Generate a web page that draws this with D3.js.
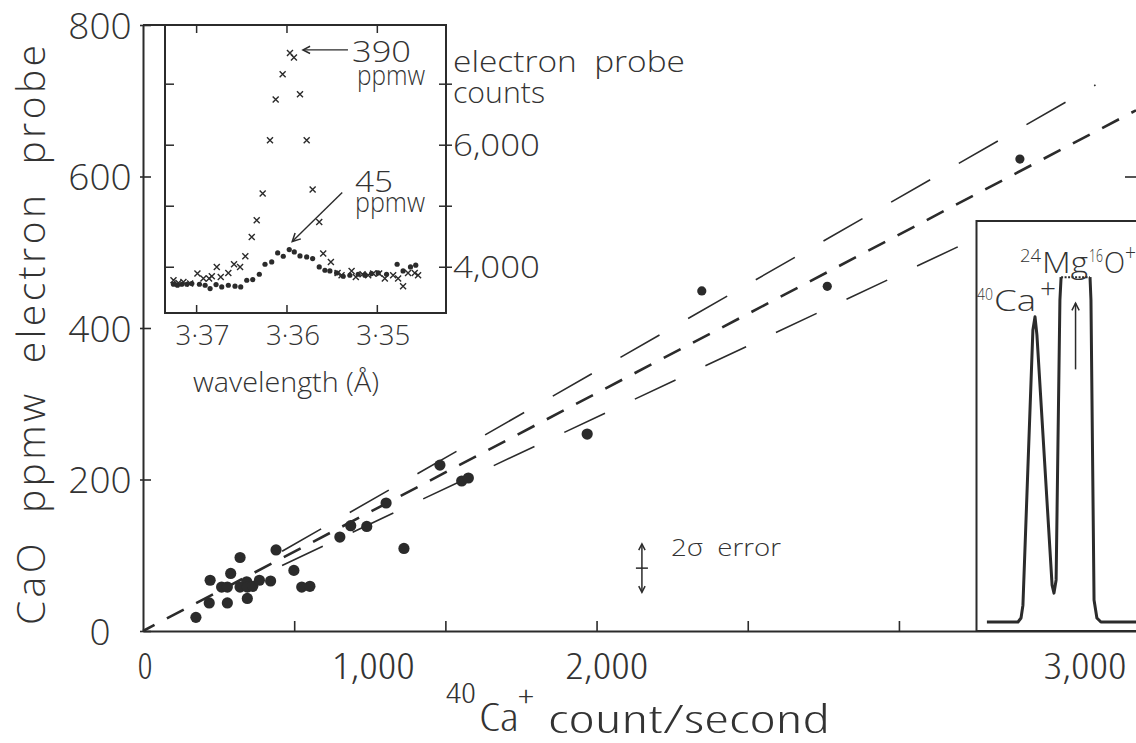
<!DOCTYPE html>
<html>
<head>
<meta charset="utf-8">
<script src="https://cdn.jsdelivr.net/npm/d3@7"></script>
<style>
  body { margin: 0; background: #fff; }
  svg { display: block; }
</style>
</head>
<body>
<svg id="chart" width="1136" height="743"></svg>
<script>
// ---- main scatter: 40Ca+ count rate vs CaO (electron probe) ----
const countRate = [175, 219, 279, 222, 260, 279, 290, 321, 321, 343, 345, 345, 363, 385, 422,
  440, 499, 525, 552, 651, 687, 740, 804, 863, 982, 1054, 1076, 1469, 1848, 2263, 2900];
const caoPpmw = [18, 37, 37, 67, 58, 58, 76, 97, 58, 65, 58, 43, 59, 67, 66,
  107, 80, 58, 59, 124, 139, 138, 169, 109, 219, 198, 202, 260, 449, 455, 623];

// regression line and its two limits (ppmw per count/s)
const fitNames = ['upper', 'best', 'lower'];
const fitSlope = [0.2288, 0.2093, 0.1882];
const fitFrom = [460, 0, 460];
const fitTo = [3150, 3284, 2718];

const yTicks = [0, 200, 400, 600, 800];
const xTicks = [500, 1000, 1500, 2000, 2500, 3000];
const xTickLabels = [0, 1000, 2000, 3000];

// 2 sigma error marker
const errCount = 1650, errPpmw = 83, err2s = 32;

// ---- inset: electron probe wavelength scans ----
const crossWl = [3.37256, 3.37201, 3.37146, 3.37072, 3.36991, 3.36925, 3.36862, 3.36832, 3.36777,
  3.36733, 3.36649, 3.36586, 3.36519, 3.36461, 3.3639, 3.36335, 3.36269, 3.36188, 3.36125, 3.36048,
  3.35967, 3.35923, 3.35856, 3.35782, 3.35716, 3.35643, 3.35599, 3.35514, 3.3544, 3.35396, 3.35285,
  3.35238, 3.35164, 3.35101, 3.35046, 3.3498, 3.34917, 3.34825, 3.3477, 3.34715, 3.3466, 3.34586, 3.34549];
const crossCount = [3787, 3743, 3759, 3732, 3896, 3814, 3814, 3852, 4005, 3841, 3907, 4049, 4005,
  4180, 4497, 4770, 5208, 6082, 6749, 7164, 7513, 7437, 6836, 6082, 5273, 4743, 4224, 4087, 3907,
  3869, 3940, 3841, 3885, 3869, 3896, 3896, 3814, 3869, 3814, 3689, 3907, 3907, 3869];
const dotWl = [3.37256, 3.37212, 3.37164, 3.37108, 3.37053, 3.36969, 3.36906, 3.36851, 3.36785,
  3.36722, 3.36649, 3.36575, 3.36512, 3.36445, 3.36379, 3.36306, 3.36243, 3.36169, 3.36103, 3.36041,
  3.35975, 3.35919, 3.35856, 3.35782, 3.35716, 3.35643, 3.3558, 3.35525, 3.35451, 3.35378, 3.35304,
  3.35212, 3.35138, 3.35064, 3.34991, 3.34898, 3.34781, 3.34715, 3.34633, 3.34575];
const dotCount = [3721, 3705, 3721, 3721, 3732, 3721, 3705, 3651, 3716, 3677, 3705, 3689, 3677,
  3787, 3798, 3885, 4049, 4087, 4234, 4180, 4290, 4251, 4185, 4169, 4142, 4005, 3951, 3940, 3907,
  3852, 3869, 3885, 3869, 3896, 3907, 3885, 4049, 3940, 4005, 4033];
const wlTicks = [3.37, 3.36, 3.35];
const probeTicks = [4000, 5000, 6000, 7000];
const probeTickLabels = [4000, 6000];

// ---- inset: ion probe mass scan (relative intensity) ----
const profMass = [39.9427, 39.9558, 39.9571, 39.9579, 39.9621, 39.9630, 39.9638, 39.9702, 39.9710,
  39.9719, 39.9735, 39.9740, 39.9862, 39.9866, 39.9879, 39.9891, 39.9908, 40.0056];
const profInt = [0, 0, 1, 4.2, 72.8, 76.1, 71.6, 9.2, 7.2, 10.5, 80.3, 86, 86, 80.3, 5.5, 1, 0, 0];

const ink = '#2b2b2b';
const txt = '#333';
const FONT = "'Open Sans', 'Liberation Sans', sans-serif";
const WEIGHT = 350;

const svg = d3.select('#chart');
svg.append('rect').attr('width', 1136).attr('height', 743).attr('fill', '#fff');

// scales
const x = d3.scaleLinear().domain([0, 3284]).range([143, 1136]);
const y = d3.scaleLinear().domain([0, 800]).range([631, 25]);

// open arrow head
function arrowHead(g, tipX, tipY, angle, size) {
  const a1 = angle + Math.PI * 0.85, a2 = angle - Math.PI * 0.85;
  g.append('path')
    .attr('d', `M${tipX + size * Math.cos(a1)},${tipY + size * Math.sin(a1)}L${tipX},${tipY}L${tipX + size * Math.cos(a2)},${tipY + size * Math.sin(a2)}`)
    .attr('fill', 'none').attr('stroke', ink).attr('stroke-width', 1.5);
}

// light text helper; optional width forces the printed width
function label(g, tx, ty, size, str, width, condensed) {
  const t = g.append('text')
    .attr('x', tx).attr('y', ty)
    .attr('font-family', FONT).attr('font-weight', WEIGHT).attr('font-size', size)
    .attr('fill', txt)
    .style('white-space', 'pre')
    .text(str);
  if (condensed) t.style('font-stretch', 'condensed');
  if (width) t.attr('textLength', width).attr('lengthAdjust', 'spacingAndGlyphs');
  return t;
}

// ---------- main axes ----------
const yAxis = svg.append('g')
  .attr('transform', `translate(${x(0)},0)`)
  .call(d3.axisLeft(y).tickValues(yTicks).tickSize(-8).tickSizeOuter(0).tickFormat(d3.format('d')));
yAxis.select('.domain').attr('stroke', ink).attr('stroke-width', 2);
yAxis.selectAll('.tick line').attr('x1', -3).attr('stroke', ink).attr('stroke-width', 1.6);
yAxis.selectAll('.tick text')
  .attr('x', -43).attr('dy', '0.36em').attr('text-anchor', 'middle')
  .attr('font-family', FONT).attr('font-weight', WEIGHT).attr('font-size', 37).attr('fill', txt);

const xAxis = svg.append('g')
  .attr('transform', `translate(0,${y(0)})`)
  .call(d3.axisBottom(x).tickValues(xTicks).tickSize(-10).tickSizeOuter(0).tickFormat(''));
xAxis.select('.domain').attr('stroke', ink).attr('stroke-width', 2);
xAxis.selectAll('.tick line').attr('stroke', ink).attr('stroke-width', 1.6);

// right-hand axis ticks (its axis line lies just outside the picture)
const rAxis = svg.append('g')
  .attr('transform', 'translate(1138,0)')
  .call(d3.axisRight(y).tickValues([200, 400, 600]).tickSize(-13).tickSizeOuter(0).tickFormat(''));
rAxis.select('.domain').remove();
rAxis.selectAll('.tick line').attr('stroke', ink).attr('stroke-width', 1.6);

// x tick labels, offset as printed in the original figure
const xLabelNudge = [2, -72, -141, 35];
svg.append('g').selectAll('text')
  .data(xTickLabels)
  .join('text')
  .attr('x', (d, i) => x(d) + xLabelNudge[i])
  .attr('y', 679)
  .attr('text-anchor', 'middle')
  .attr('font-family', FONT).attr('font-weight', WEIGHT).attr('font-size', 37)
  .style('font-stretch', 'condensed')
  .attr('fill', txt)
  .attr('textLength', d => d === 0 ? null : 83)
  .attr('lengthAdjust', 'spacingAndGlyphs')
  .text(d => d3.format(',')(d));

// axis titles
svg.append('text')
  .attr('transform', 'translate(45,335) rotate(-90)')
  .attr('text-anchor', 'middle')
  .attr('font-family', FONT).attr('font-weight', WEIGHT).attr('font-size', 39).attr('fill', txt)
  .attr('textLength', 580).attr('lengthAdjust', 'spacing')
  .style('white-space', 'pre')
  .text('CaO  ppmw  electron  probe');

const xt = svg.append('g');
label(xt, 446, 703, 28, '40', 30, true);
label(xt, 479, 731, 38, 'Ca', 40, true);
label(xt, 518, 707, 30, '+', 16, true);
label(xt, 548, 733, 38, 'count/second', 282, true);

// ---------- fit lines ----------
const fits = fitNames.map((name, i) => ({ name, slope: fitSlope[i], from: fitFrom[i], to: fitTo[i] }));
svg.append('g').selectAll('line')
  .data(fits)
  .join('line')
  .attr('x1', d => x(d.from)).attr('y1', d => y(d.slope * d.from))
  .attr('x2', d => x(d.to)).attr('y2', d => y(d.slope * d.to))
  .attr('stroke', ink)
  .attr('stroke-width', d => d.name === 'best' ? 2.6 : 1.6)
  .attr('stroke-dasharray', d => d.name === 'best' ? '19,14' : '45,33')
  .attr('stroke-dashoffset', d => d.name === 'best' ? 6 : 0);

// ---------- data points ----------
const pts = countRate.map((c, i) => ({ c, p: caoPpmw[i] }));
svg.append('g').selectAll('circle')
  .data(pts)
  .join('circle')
  .attr('cx', d => x(d.c)).attr('cy', d => y(d.p))
  .attr('r', d => d.c > 1600 ? 4.6 : 5.6)
  .attr('fill', ink);

// ---------- 2 sigma error marker ----------
const eg = svg.append('g');
const ex = x(errCount), eTop = y(errPpmw + err2s), eBot = y(errPpmw - err2s);
eg.append('line').attr('x1', ex).attr('x2', ex).attr('y1', eTop).attr('y2', eBot)
  .attr('stroke', ink).attr('stroke-width', 1.5);
eg.append('line').attr('x1', ex - 6).attr('x2', ex + 6).attr('y1', y(errPpmw)).attr('y2', y(errPpmw))
  .attr('stroke', ink).attr('stroke-width', 1.5);
arrowHead(eg, ex, eTop, -Math.PI / 2, 7);
arrowHead(eg, ex, eBot, Math.PI / 2, 7);
label(eg, ex + 29, 556, 24, '2σ  error', 110);

// ---------- inset: wavelength scans ----------
const wl = d3.scaleLinear().domain([3.3735, 3.3424]).range([165, 446]);
const pc = d3.scaleLinear().domain([3250, 7970]).range([313, 25]);
const ins = svg.append('g');
ins.append('rect').attr('x', 165).attr('y', 25).attr('width', 281).attr('height', 288)
  .attr('fill', '#fff').attr('stroke', ink).attr('stroke-width', 2);
ins.append('line').attr('x1', x(0)).attr('x2', 165).attr('y1', 25).attr('y2', 25)
  .attr('stroke', ink).attr('stroke-width', 2);

ins.selectAll('.tk-l').data(probeTicks).join('line')
  .attr('x1', 165).attr('x2', 174).attr('y1', d => pc(d)).attr('y2', d => pc(d))
  .attr('stroke', ink).attr('stroke-width', 1.5);
ins.selectAll('.tk-r').data(probeTicks).join('line')
  .attr('x1', 439).attr('x2', 452).attr('y1', d => pc(d)).attr('y2', d => pc(d))
  .attr('stroke', ink).attr('stroke-width', 1.5);
ins.selectAll('.tk-t').data(wlTicks).join('line')
  .attr('x1', d => wl(d)).attr('x2', d => wl(d)).attr('y1', 25).attr('y2', 33)
  .attr('stroke', ink).attr('stroke-width', 1.5);
ins.selectAll('.tk-b').data(wlTicks).join('line')
  .attr('x1', d => wl(d)).attr('x2', d => wl(d)).attr('y1', 305).attr('y2', 313)
  .attr('stroke', ink).attr('stroke-width', 1.5);

ins.selectAll('.wl-lab').data(wlTicks).join('text')
  .attr('x', d => wl(d) + 6).attr('y', 345)
  .attr('text-anchor', 'middle')
  .attr('font-family', FONT).attr('font-weight', WEIGHT).attr('font-size', 28).attr('fill', txt)
  .attr('textLength', 54).attr('lengthAdjust', 'spacingAndGlyphs')
  .text(d => d.toFixed(2).replace('.', '·'));
ins.selectAll('.pc-lab').data(probeTickLabels).join('text')
  .attr('x', 453).attr('y', d => pc(d) + 11)
  .attr('font-family', FONT).attr('font-weight', WEIGHT).attr('font-size', 31).attr('fill', txt)
  .attr('textLength', 87).attr('lengthAdjust', 'spacingAndGlyphs')
  .text(d => d3.format(',')(d));
label(ins, 453, 72, 30, 'electron  probe', 232);
label(ins, 453, 103, 30, 'counts', 92);
label(ins, 193, 392, 27, 'wavelength (Å)', 186);

// crosses: 390 ppmw standard, dots: 45 ppmw sample
ins.append('g').selectAll('path')
  .data(crossWl.map((w, i) => ({ w, c: crossCount[i] })))
  .join('path')
  .attr('transform', d => `translate(${wl(d.w)},${pc(d.c)})`)
  .attr('d', 'M-3,-3L3,3M-3,3L3,-3')
  .attr('stroke', ink).attr('stroke-width', 1.4).attr('fill', 'none');
const dots = dotWl.map((w, i) => ({ w, c: dotCount[i] }));
ins.append('g').selectAll('circle')
  .data(dots)
  .join('circle')
  .attr('cx', d => wl(d.w)).attr('cy', d => pc(d.c)).attr('r', 2.6)
  .attr('fill', ink);

// annotations
const iMaxCross = d3.maxIndex(crossCount);
const tip390 = [wl(crossWl[iMaxCross]) + 13, pc(crossCount[iMaxCross]) - 3];
ins.append('line').attr('x1', tip390[0]).attr('y1', tip390[1]).attr('x2', tip390[0] + 45).attr('y2', tip390[1])
  .attr('stroke', ink).attr('stroke-width', 1.4);
arrowHead(ins, tip390[0], tip390[1], Math.PI, 8);
label(ins, 352, 62, 30, '390', 59);
label(ins, 357, 85, 27, 'ppmw', 68);

const iMaxDot = d3.maxIndex(dotCount);
const tip45 = [wl(dotWl[iMaxDot]) + 3, pc(dotCount[iMaxDot]) - 8];
ins.append('line').attr('x1', tip45[0]).attr('y1', tip45[1]).attr('x2', tip45[0] + 50).attr('y2', tip45[1] - 49)
  .attr('stroke', ink).attr('stroke-width', 1.4);
arrowHead(ins, tip45[0], tip45[1], Math.atan2(49, -50), 9);
label(ins, 355, 192, 30, '45', 38);
label(ins, 355, 212, 27, 'ppmw', 70);

// ---------- inset: ion probe mass scan ----------
const ms = d3.scaleLinear().domain([39.9381, 40.0056]).range([976, 1136]);
const ri = d3.scaleLinear().domain([0, 100]).range([622, 221]);
const mg = svg.append('g');
mg.append('rect').attr('x', 976.5).attr('y', 221).attr('width', 170).attr('height', 410)
  .attr('fill', '#fff').attr('stroke', ink).attr('stroke-width', 2);

const prof = profMass.map((m, i) => ({ m, v: profInt[i] }));
const satStart = 11; // flat (saturated) MgO top between this point and the next
const profLine = d3.line().x(d => ms(d.m)).y(d => ri(d.v));
mg.append('path').attr('d', profLine(prof.slice(0, satStart + 1)))
  .attr('fill', 'none').attr('stroke', ink).attr('stroke-width', 3).attr('stroke-linejoin', 'round');
mg.append('path').attr('d', profLine(prof.slice(satStart + 1)))
  .attr('fill', 'none').attr('stroke', ink).attr('stroke-width', 3).attr('stroke-linejoin', 'round');
mg.append('path').attr('d', profLine(prof.slice(satStart, satStart + 2)))
  .attr('fill', 'none').attr('stroke', ink).attr('stroke-width', 2).attr('stroke-dasharray', '2,1.5');

const mgoMass = (profMass[satStart] + profMass[satStart + 1]) / 2;
mg.append('line').attr('x1', ms(mgoMass)).attr('x2', ms(mgoMass)).attr('y1', ri(63)).attr('y2', ri(79.5))
  .attr('stroke', ink).attr('stroke-width', 1.5);
arrowHead(mg, ms(mgoMass), ri(79.5), -Math.PI / 2, 8);

label(mg, 977, 300, 17, '40', 16);
label(mg, 994, 311, 30, 'Ca', 42);
label(mg, 1040, 298, 28, '+', 16);
label(mg, 1020, 262, 18, '24', 21);
label(mg, 1042, 273, 30, 'Mg', 46);
label(mg, 1089, 262, 18, '16', 14);
label(mg, 1104, 273, 30, 'O', 21);
label(mg, 1125, 261, 24, '+', 11);
</script>
</body>
</html>
